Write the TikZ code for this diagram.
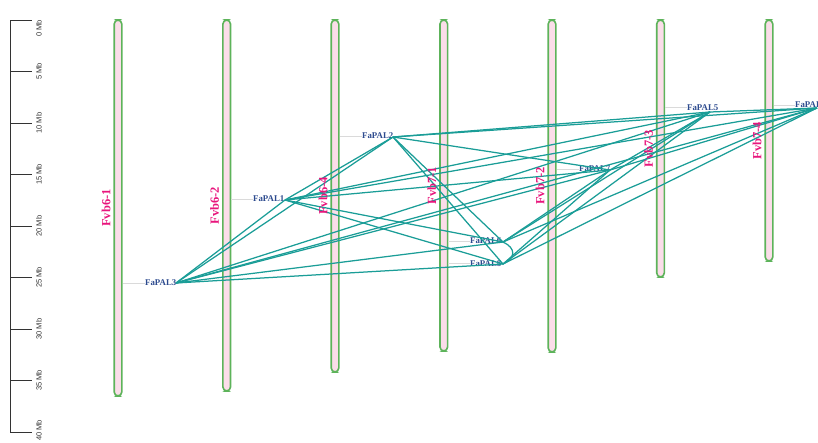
\documentclass[tikz,border=0pt]{standalone}
\usepackage{fontspec}
\setmainfont{Liberation Serif}
\newfontfamily\axisfont{Liberation Sans}
\definecolor{chromgreen}{HTML}{5DB35A}
\definecolor{chrompink}{HTML}{FBDDE9}
\definecolor{chromred}{HTML}{E8157C}
\definecolor{geneblue}{HTML}{2C4A8E}
\definecolor{leadergray}{HTML}{DADADA}
\definecolor{linkteal}{HTML}{1A9D97}
\definecolor{axisgray}{HTML}{333333}
\begin{document}
\begin{tikzpicture}[x=1pt,y=-1pt,
  chrom/.style={draw=chromgreen, fill=chrompink, line width=1.6pt, rounded corners=4pt, minimum width=7.6pt, inner sep=0pt},
  chromlab/.style={text=chromred, font=\fontsize{12.5}{12.5}\selectfont\bfseries, rotate=90, inner sep=0pt},
  genelab/.style={text=geneblue, font=\fontsize{8.8}{8.8}\selectfont\bfseries, anchor=west, inner sep=0pt},
  leader/.style={draw=leadergray, line width=0.7pt},
  link/.style={draw=linkteal, line width=1.25pt},
  ticklab/.style={font=\axisfont\fontsize{7.5}{7.5}\selectfont, text=axisgray, rotate=90, inner sep=0pt},
  tickline/.style={draw=axisgray, line width=0.8pt}]
\useasboundingbox (0,0) rectangle (818,442);

% scale axis
\coordinate (axtop) at (10,20);
\coordinate (axbot) at (10,432);
\draw[tickline] (axtop) -- (axbot);
\foreach \k in {0,...,8} {
  \draw[tickline] (10,20+51.5*\k) -- (32,20+51.5*\k);
}
\node[ticklab, anchor=east] (t0) at (39,20) {0 Mb};
\foreach \k in {1,...,7} {
  \pgfmathtruncatemacro{\mb}{5*\k}
  \node[ticklab] (t\k) at (39,20+51.5*\k) {\mb\ Mb};
}
\node[ticklab, anchor=west] (t8) at (39,441) {40 Mb};

% chromosomes
\node[chrom, minimum height=376pt] (c61) at (118,208) {};
\node[chrom, minimum height=371pt] (c62) at (226.7,205.5) {};
\node[chrom, minimum height=352pt] (c64) at (335,196) {};
\node[chrom, minimum height=331pt] (c71) at (443.8,185.5) {};
\node[chrom, minimum height=332pt] (c72) at (552,186) {};
\node[chrom, minimum height=257pt] (c73) at (660.5,148.5) {};
\node[chrom, minimum height=241pt] (c74) at (769,140.5) {};

% gene labels
\node[genelab] (l3) at (145,283) {FaPAL3};
\node[genelab] (l1) at (253,199) {FaPAL1};
\node[genelab] (l2) at (362,136) {FaPAL2};
\node[genelab] (l6) at (470,241) {FaPAL6};
\node[genelab] (l8) at (470,263.5) {FaPAL8};
\node[genelab] (l7) at (579,169) {FaPAL7};
\node[genelab] (l5) at (687,107.5) {FaPAL5};
\node[genelab] (l4) at (795,105) {FaPAL4};

% leader lines
\draw[leader] (c61.east |- l3.west) -- (l3.west);
\draw[leader] (c62.east |- l1.west) -- (l1.west);
\draw[leader] (c64.east |- l2.west) -- (l2.west);
\draw[leader] (c71.east |- l6.west) -- (l6.west);
\draw[leader] (c71.east |- l8.west) -- (l8.west);
\draw[leader] (c72.east |- l7.west) -- (l7.west);
\draw[leader] (c73.east |- l5.west) -- (l5.west);
\draw[leader] (c74.east |- l4.west) -- (l4.west);

% link points
\coordinate (p3) at (176,283);
\coordinate (p1) at (285,200);
\coordinate (p2) at (393,137);
\coordinate (p6) at (503,242);
\coordinate (p8) at (503,264);
\coordinate (p7) at (610,170);
\coordinate (p5) at (710,112);
\coordinate (p4) at (817,108);

% links
\foreach \a/\b in {1/2,1/3,1/4,1/5,1/6,1/7,1/8,2/3,2/4,2/5,2/6,2/7,2/8,3/4,3/5,3/6,3/7,3/8,4/5,4/6,4/7,4/8,5/6,5/7,5/8,6/7,7/8} {
  \draw[link] (p\a) -- (p\b);
}
\draw[link] (p6) .. controls (516,248) and (516,258) .. (p8);

% chromosome labels
\node[chromlab] (n61) at (106,208) {Fvb6-1};
\node[chromlab] (n62) at (214.7,205.5) {Fvb6-2};
\node[chromlab] (n64) at (323,196) {Fvb6-4};
\node[chromlab] (n71) at (431.8,185.5) {Fvb7-1};
\node[chromlab] (n72) at (540,186) {Fvb7-2};
\node[chromlab] (n73) at (648.5,148.5) {Fvb7-3};
\node[chromlab] (n74) at (757,140.5) {Fvb7-4};
\end{tikzpicture}
\end{document}
